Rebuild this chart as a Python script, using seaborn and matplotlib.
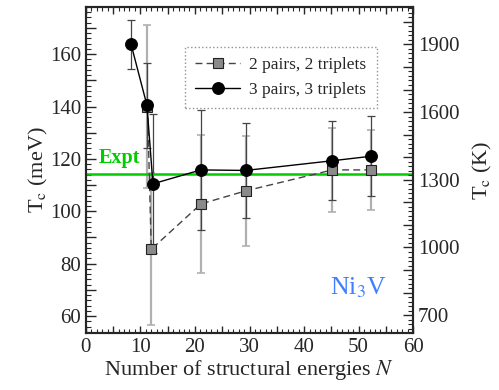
import matplotlib
matplotlib.use("Agg")
import matplotlib.pyplot as plt
from matplotlib.ticker import MultipleLocator, FuncFormatter
import seaborn as sns
import pandas as pd

# ---- data ----
n_two = [11.3, 12.0, 21.1, 29.3, 45.2, 52.2]
tc_two = [140.0, 85.5, 102.8, 107.8, 115.8, 115.8]
err_two = [31.0, 29.0, 26.4, 21.0, 16.0, 15.3]

n_three = [8.3, 11.2, 12.3, 21.1, 29.3, 45.2, 52.2]
tc_three = [163.7, 140.5, 110.5, 115.8, 115.6, 119.3, 121.0]
err_three = [9.5, 16.3, 26.5, 23.0, 18.0, 15.0, 15.2]

tc_expt = 114.4
mev_to_k = 11.6045
label_two = "2 pairs, 2 triplets"
label_three = "3 pairs, 3 triplets"

df_two = pd.DataFrame({"N": n_two, "Tc": tc_two})
df_three = pd.DataFrame({"N": n_three, "Tc": tc_three})

sns.set_style("ticks")
plt.rcParams["font.family"] = ["Liberation Serif", "DejaVu Serif"]
plt.rcParams["mathtext.fontset"] = "stix"

fig = plt.figure(figsize=(4.99, 3.9), dpi=100)
ax = fig.add_axes([0.172, 0.146, 0.656, 0.836])

ylo, yhi = 53.5, 178.0

# error bars (behind)
ax.errorbar(n_two, tc_two, yerr=err_two, fmt="none", ecolor="#b0b0b0",
            elinewidth=1.6, capsize=3, capthick=1.2, zorder=1)
ax.errorbar(n_three, tc_three, yerr=err_three, fmt="none", ecolor="#444444",
            elinewidth=0.9, capsize=3, capthick=0.9, zorder=1.2)

# experimental line
ax.axhline(tc_expt, color="#00cc00", lw=1.8, zorder=2)
ax.text(2.4, tc_expt + 2.0, "Expt", color="#00cc00", fontsize=14.5,
        fontweight="bold", ha="left", va="bottom")

sns.lineplot(data=df_two, x="N", y="Tc", ax=ax, color="#444444", lw=1.0,
             linestyle=(0, (5, 3)), marker="s", markersize=6.5,
             markerfacecolor="#8a8a8a", markeredgecolor="#222222",
             markeredgewidth=0.8, label=label_two, zorder=3)
sns.lineplot(data=df_three, x="N", y="Tc", ax=ax, color="black", lw=1.0,
             marker="o", markersize=8.5, markerfacecolor="black",
             markeredgecolor="black", label=label_three, zorder=4)

ax.text(50, 71, "Ni$_3$V", color="#3f7fff", fontsize=18.5,
        ha="center", va="center")

ax.set_xlim(0, 60)
ax.set_ylim(ylo, yhi)
ax.set_xlabel("Number of structural energies $N$", fontsize=16, labelpad=1)
ax.set_ylabel("T$_\\mathrm{c}$ (meV)", fontsize=16, labelpad=0)

ax.xaxis.set_major_locator(MultipleLocator(5))
ax.xaxis.set_minor_locator(MultipleLocator(1))
ax.xaxis.set_major_formatter(FuncFormatter(lambda v, p: f"{v:.0f}" if v % 10 == 0 else ""))
ax.yaxis.set_major_locator(MultipleLocator(10))
ax.yaxis.set_minor_locator(MultipleLocator(2))
ax.yaxis.set_major_formatter(FuncFormatter(lambda v, p: f"{v:.0f}" if v % 20 == 0 else ""))
ax.tick_params(axis="both", which="major", direction="in", length=7, width=1,
               labelsize=15, top=True, right=False)
ax.tick_params(axis="both", which="minor", direction="in", length=3.5, width=0.8,
               top=True, right=False)
ax.tick_params(axis="x", which="major", length=5)
ax.tick_params(axis="x", which="minor", length=3)

ax2 = ax.twinx()
ax2.set_ylim(ylo * mev_to_k, yhi * mev_to_k)
ax2.yaxis.set_major_locator(MultipleLocator(100))
ax2.yaxis.set_minor_locator(MultipleLocator(20))
ax2.yaxis.set_major_formatter(FuncFormatter(lambda v, p: f"{v:.0f}" if (v - 700) % 300 == 0 else ""))
ax2.tick_params(axis="y", which="major", direction="in", length=7, width=1, labelsize=15)
ax2.tick_params(axis="y", which="minor", direction="in", length=3.5, width=0.8)
ax2.set_ylabel("T$_\\mathrm{c}$ (K)", fontsize=16, labelpad=8)

for a in (ax, ax2):
    for s in a.spines.values():
        s.set_linewidth(1.5)

leg = ax.legend(loc="upper right", bbox_to_anchor=(0.915, 0.905), fontsize=12.5,
                frameon=True, fancybox=False, handlelength=2.6,
                borderpad=0.6, labelspacing=0.5, handletextpad=0.5)
leg.get_frame().set_linestyle(":")
leg.get_frame().set_edgecolor("#777777")
leg.get_frame().set_linewidth(1.0)

fig.savefig("out.png", dpi=100)
